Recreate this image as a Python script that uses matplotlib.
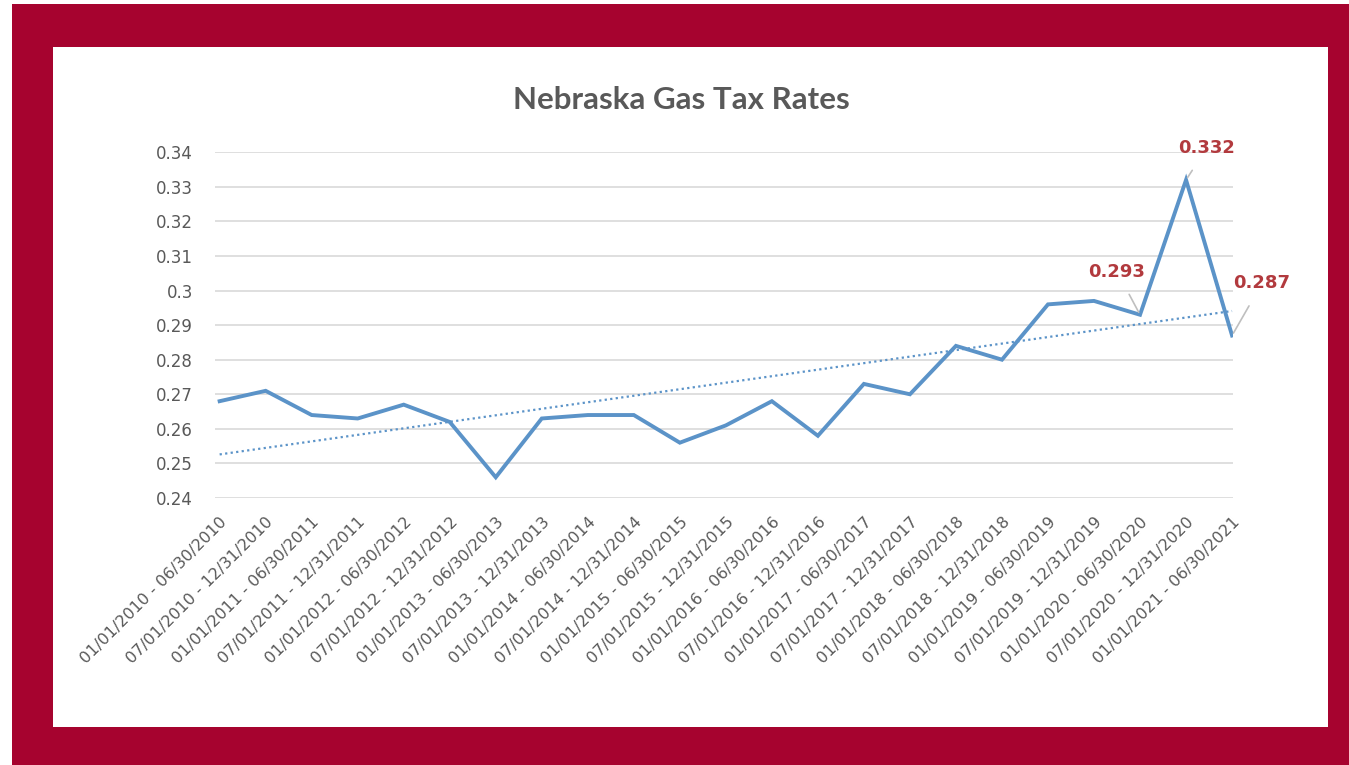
import numpy as np
import matplotlib
matplotlib.use("Agg")
import matplotlib.pyplot as plt
from matplotlib.patches import Rectangle
from matplotlib.transforms import ScaledTranslation

# half-year periods
periods = [
    "01/01/2010 - 06/30/2010", "07/01/2010 - 12/31/2010",
    "01/01/2011 - 06/30/2011", "07/01/2011 - 12/31/2011",
    "01/01/2012 - 06/30/2012", "07/01/2012 - 12/31/2012",
    "01/01/2013 - 06/30/2013", "07/01/2013 - 12/31/2013",
    "01/01/2014 - 06/30/2014", "07/01/2014 - 12/31/2014",
    "01/01/2015 - 06/30/2015", "07/01/2015 - 12/31/2015",
    "01/01/2016 - 06/30/2016", "07/01/2016 - 12/31/2016",
    "01/01/2017 - 06/30/2017", "07/01/2017 - 12/31/2017",
    "01/01/2018 - 06/30/2018", "07/01/2018 - 12/31/2018",
    "01/01/2019 - 06/30/2019", "07/01/2019 - 12/31/2019",
    "01/01/2020 - 06/30/2020", "07/01/2020 - 12/31/2020",
    "01/01/2021 - 06/30/2021",
]
rates = [0.268, 0.271, 0.264, 0.263, 0.267, 0.262, 0.246, 0.263,
         0.264, 0.264, 0.256, 0.261, 0.268, 0.258, 0.273, 0.270,
         0.284, 0.280, 0.296, 0.297, 0.293, 0.332, 0.287]
yticks = [0.24, 0.25, 0.26, 0.27, 0.28, 0.29, 0.3, 0.31, 0.32, 0.33, 0.34]
ytick_labels = ["0.24", "0.25", "0.26", "0.27", "0.28", "0.29", "0.3",
                "0.31", "0.32", "0.33", "0.34"]
labelled = [20, 21, 22]

red = "#A6032F"
blue = "#5B93C8"
grey_txt = "#595959"
lab_red = "#B23A3E"

fig = plt.figure(figsize=(13.49, 7.65), dpi=100, facecolor="white")

# red frame with white panel
fig.patches.append(Rectangle((0.0089, 0.0), 0.9911, 0.9948, transform=fig.transFigure,
                             facecolor=red, edgecolor="none", zorder=-10))
fig.patches.append(Rectangle((0.0393, 0.0497), 0.9451, 0.8889, transform=fig.transFigure,
                             facecolor="white", edgecolor="none", zorder=-9))

ax = fig.add_axes([0.1594, 0.349, 0.7546, 0.452])
ax.set_facecolor("none")

x = np.arange(len(rates))
ax.plot(x, rates, color=blue, linewidth=2.8, solid_joinstyle="miter", zorder=3)

# linear trendline
coef = np.polyfit(x, rates, 1)
ax.plot(x, np.polyval(coef, x), color=blue, linewidth=1.6, linestyle=(0, (1, 1.5)), zorder=2)

ax.set_xlim(-0.1, len(rates) - 0.98)
ax.set_ylim(0.24, 0.34)
ax.set_yticks(yticks)
ax.set_yticklabels(ytick_labels, color=grey_txt, fontsize=12)
ax.set_xticks(x)
ax.set_xticklabels(periods, rotation=45, ha="right", rotation_mode="anchor",
                   color=grey_txt, fontsize=11.5)
shift = ScaledTranslation(-4 / 72, 0, fig.dpi_scale_trans)
for lbl in ax.get_xticklabels():
    lbl.set_transform(lbl.get_transform() + shift)
ax.tick_params(length=0, axis="y", pad=16)
ax.tick_params(length=0, axis="x", pad=12)
ax.grid(axis="y", color="#D9D9D9", linewidth=1.2)
ax.set_axisbelow(True)
for s in ax.spines.values():
    s.set_visible(False)

# data labels with leader lines
offsets = {20: (-0.5, 0.0125), 21: (0.45, 0.0092), 22: (0.65, 0.0151)}
for i in labelled:
    dx, dy = offsets[i]
    ax.annotate(f"{rates[i]:.3f}", xy=(i, rates[i]), xytext=(i + dx, rates[i] + dy),
                ha="center", va="center", color=lab_red, fontsize=13, fontweight="bold",
                annotation_clip=False,
                arrowprops=dict(arrowstyle="-", color="#BFBFBF", linewidth=1.2,
                                shrinkA=9, shrinkB=2))

fig.text(0.505, 0.869, "Nebraska Gas Tax Rates", ha="center", va="center",
         fontsize=22.5, fontweight="bold", color=grey_txt, family="Lato")

fig.savefig("out.png", dpi=100, facecolor="white")
